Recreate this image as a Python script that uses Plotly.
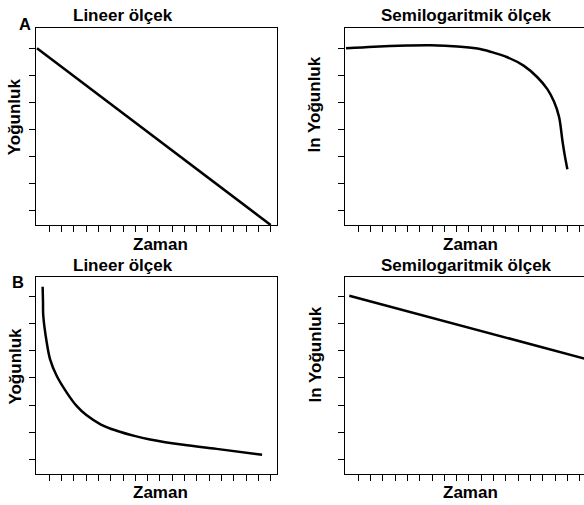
import plotly.graph_objects as go

W, H = 584, 505

# ---- data (time units, concentration units) ----
# Panel A, linear scale: straight decline
a_lin_t = [0, 19]
a_lin_c = [7.0, 0.47]
# Panel A, semilog scale: flat then steep fall
a_log_t = [0.0, 2.28, 4.99, 6.89, 9.06, 10.68, 11.76, 13.12, 14.47, 15.56, 16.37, 16.91, 17.32, 17.59, 17.78, 18.0]
a_log_c = [7.0, 7.06, 7.10, 7.11, 7.07, 6.99, 6.87, 6.67, 6.35, 5.93, 5.49, 5.03, 4.47, 3.61, 3.06, 2.53]
# Panel B, linear scale: exponential-like decay
b_lin_t = [0.46, 0.49, 0.51, 0.79, 1.06, 1.60, 2.42, 3.2, 4.04, 5.2, 6.48, 8.0, 9.19, 11.9, 14.6, 18.3]
b_lin_c = [7.37, 6.81, 6.31, 5.32, 4.70, 4.08, 3.46, 2.98, 2.62, 2.28, 2.05, 1.85, 1.73, 1.53, 1.38, 1.16]
# Panel B, semilog scale: straight decline
b_log_t = [0.27, 19.6]
b_log_c = [7.04, 4.69]

x_ticks = list(range(1, 20))
y_ticks = list(range(1, 8))

titles = ["Lineer ölçek", "Semilogaritmik ölçek", "Lineer ölçek", "Semilogaritmik ölçek"]
xlabel = "Zaman"
ylabels = ["Yoğunluk", "ln Yoğunluk", "Yoğunluk", "ln Yoğunluk"]
panel_letters = ["A", "B"]


def px(x):
    return x / W


def py(y):
    return 1 - y / H


FONT = "Liberation Sans, Arial, sans-serif"

# panel boxes in pixels: (x0, x1, ytop, ybottom)
boxes = [
    (36, 277, 28, 225),
    (345, 584, 28, 225),
    (36, 277, 276.5, 473.5),
    (345, 584, 276.5, 473.5),
]
tick_px = 12.3
xlo = -0.08

fig = go.Figure()
series = [(a_lin_t, a_lin_c), (a_log_t, a_log_c), (b_lin_t, b_lin_c), (b_log_t, b_log_c)]
shapes = ["linear", "spline", "spline", "linear"]

for i, ((t, c), (x0, x1, yt, yb)) in enumerate(zip(series, boxes)):
    n = "" if i == 0 else str(i + 1)
    fig.add_trace(go.Scatter(x=t, y=c, mode="lines", xaxis="x" + n, yaxis="y" + n,
                             line=dict(color="black", width=2.5, shape=shapes[i], smoothing=1.0),
                             showlegend=False, hoverinfo="skip"))
    right = (i % 2 == 1)
    xr = [xlo, xlo + (x1 - x0) / tick_px]
    fig.layout["xaxis" + n] = dict(
        domain=[px(x0), min(1.0, px(x1))], range=xr, anchor="y" + n,
        tickmode="array", tickvals=x_ticks, showticklabels=False,
        ticks="outside", ticklen=6, tickwidth=1, tickcolor="black",
        showline=True, linecolor="black", linewidth=1, mirror=True,
        showgrid=False, zeroline=False, fixedrange=True)
    fig.layout["yaxis" + n] = dict(
        domain=[py(yb), py(yt)], range=[0.47, 7.75], anchor="x" + n,
        tickmode="array", tickvals=y_ticks, showticklabels=False,
        ticks="outside", ticklen=6, tickwidth=1, tickcolor="black",
        showline=True, linecolor="black", linewidth=1, mirror=(not right),
        showgrid=False, zeroline=False, fixedrange=True)

ann = []
title_pos = [(122.5, 15.3), (466.3, 15.3), (122.5, 265.5), (466.3, 265.5)]
zaman_pos = [(160, 244), (470, 244), (160, 492), (470, 492)]
ylab_pos = [(14.6, 116.7), (314.5, 105), (14.6, 366), (314.5, 355)]
for i in range(4):
    ann.append(dict(text=titles[i], x=px(title_pos[i][0]), y=py(title_pos[i][1]),
                    xref="paper", yref="paper", showarrow=False, xanchor="center", yanchor="middle",
                    font=dict(family=FONT, size=17, color="black", weight="bold")))
    ann.append(dict(text=xlabel, x=px(zaman_pos[i][0]), y=py(zaman_pos[i][1]),
                    xref="paper", yref="paper", showarrow=False, xanchor="center", yanchor="middle",
                    font=dict(family=FONT, size=17, color="black", weight="bold")))
    ann.append(dict(text=ylabels[i], x=px(ylab_pos[i][0]), y=py(ylab_pos[i][1]),
                    xref="paper", yref="paper", showarrow=False, xanchor="center", yanchor="middle",
                    textangle=-90,
                    font=dict(family=FONT, size=17, color="black", weight="bold")))
for letter, (lx, ly) in zip(panel_letters, [(24.5, 24), (17.5, 282)]):
    ann.append(dict(text=letter, x=px(lx), y=py(ly), xref="paper", yref="paper",
                    showarrow=False, xanchor="center", yanchor="middle",
                    font=dict(family=FONT, size=16.5, color="black", weight="bold")))

fig.update_layout(width=W, height=H, margin=dict(l=0, r=0, t=0, b=0),
                  paper_bgcolor="white", plot_bgcolor="white", annotations=ann,
                  showlegend=False)

fig.write_html("out.html", config={"displayModeBar": False})
